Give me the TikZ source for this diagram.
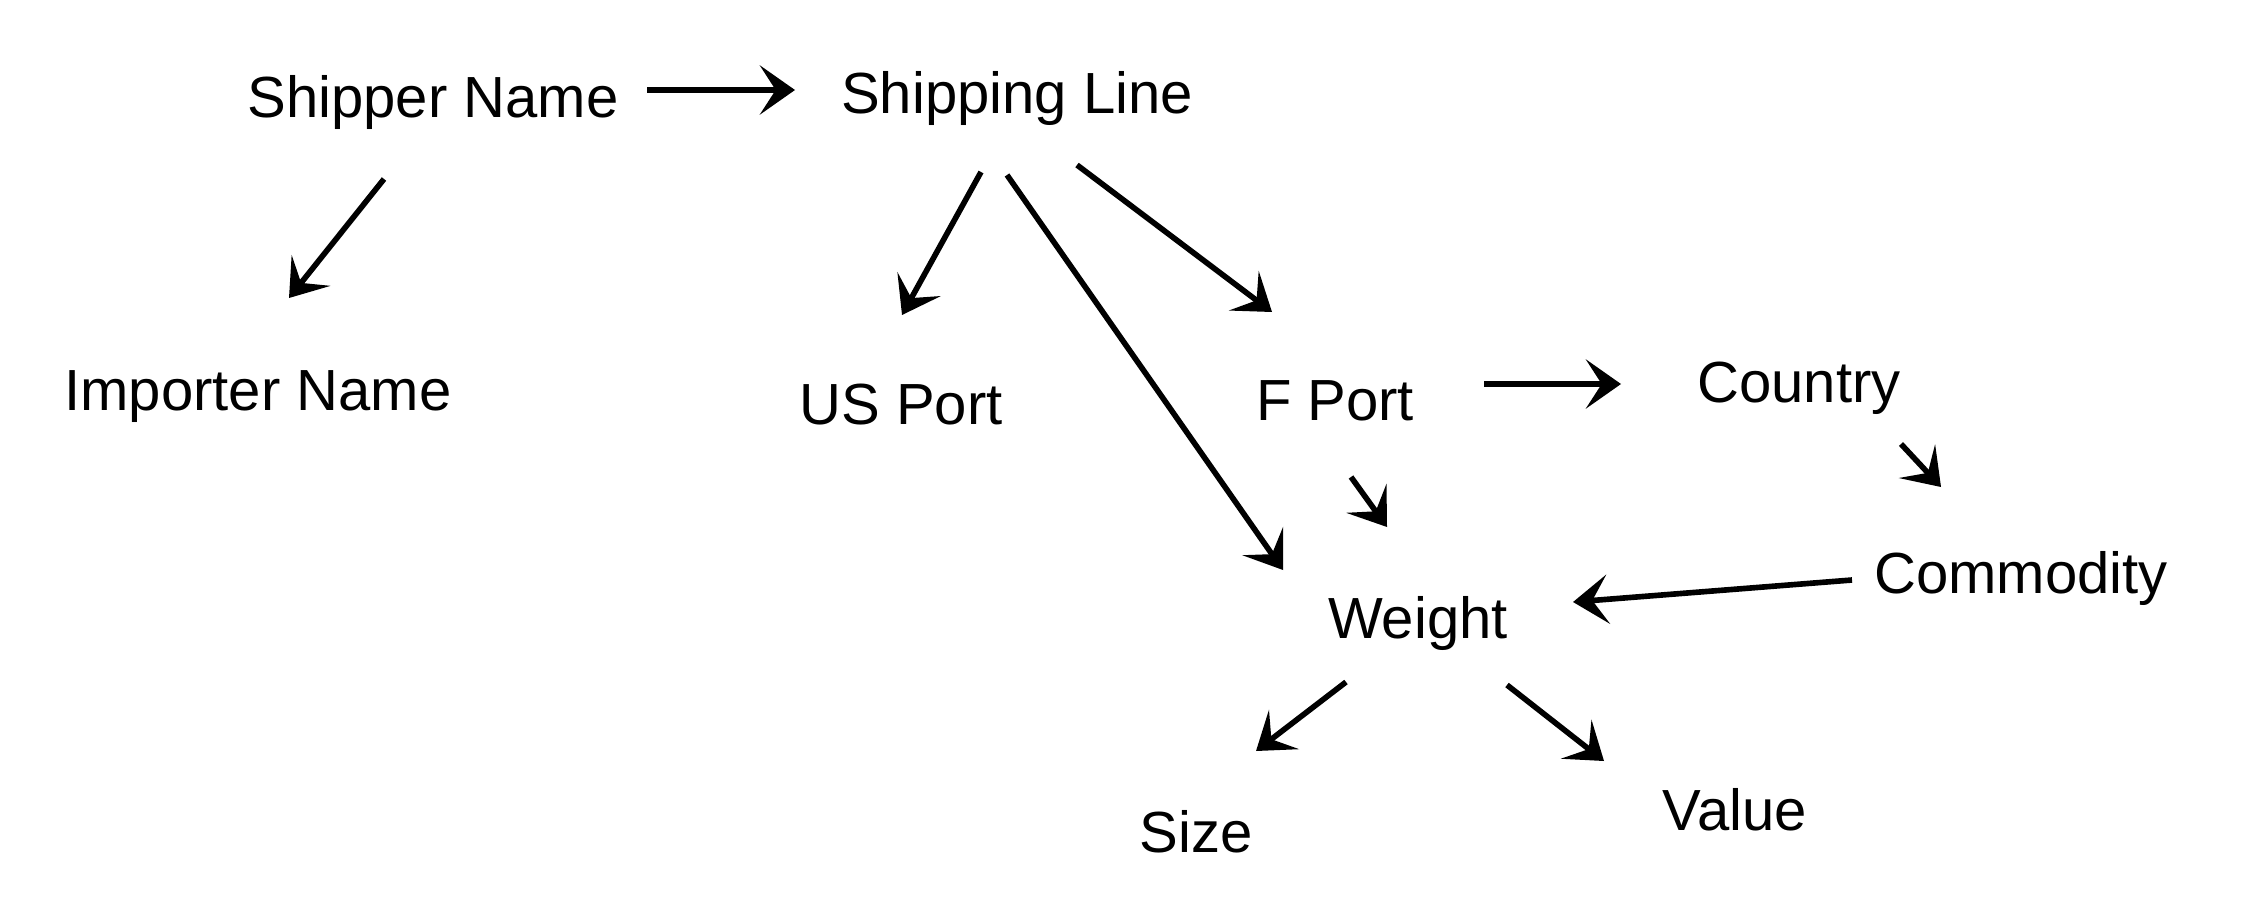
\documentclass[tikz,border=0pt]{standalone}
\usepackage{fontspec}
\setmainfont{Liberation Sans}
\usetikzlibrary{arrows.meta}
\tikzset{
    line/.style={
        line width=1.6pt
    },
    arrow/.style={
        line,
        -{Stealth[length=10pt, width=14pt, inset=4.5pt]}
    },
    field/.style={
        inner sep=0pt,
        font=\fontsize{16.5}{20}\selectfont
    }
}

\begin{document}
\begin{tikzpicture}[x=0.01cm, y=-0.01cm]
    \useasboundingbox (0, 0) rectangle (2246, 912);
    % Fields:
    \node [field] (shipper) at (433, 102) {Shipper Name};
    \node [field] (shipline) at (1017, 98) {Shipping Line};
    \node [field] (importer) at (258, 397) {Importer Name};
    \node [field] (usport) at (901, 405) {US Port};
    \node [field] (fport) at (1335, 401) {F Port};
    \node [field] (country) at (1799, 388) {Country};
    \node [field] (commodity) at (2021, 578) {Commodity};
    \node [field] (weight) at (1418, 623) {Weight};
    \node [field] (size) at (1196, 832) {Size};
    \node [field] (value) at (1735, 810) {Value};
    % Links:
    \draw [arrow] ([shift={(214, -12)}]shipper.center) -- ([shift={(-222, -8)}]shipline.center);
    \draw [arrow] ([shift={(-49, 77)}]shipper.center) -- ([shift={(31, -99)}]importer.center);
    \draw [arrow] ([shift={(-36, 74)}]shipline.center) -- ([shift={(1, -90)}]usport.center);
    \draw [arrow] ([shift={(-10, 77)}]shipline.center) -- ([shift={(-135, -53)}]weight.center);
    \draw [arrow] ([shift={(60, 67)}]shipline.center) -- ([shift={(-63, -89)}]fport.center);
    \draw [arrow] ([shift={(149, -17)}]fport.center) -- ([shift={(-178, -4)}]country.center);
    \draw [arrow] ([shift={(16, 76)}]fport.center) -- ([shift={(-31, -96)}]weight.center);
    \draw [arrow] ([shift={(102, 56)}]country.center) -- ([shift={(-80, -91)}]commodity.center);
    \draw [arrow] ([shift={(-169, 2)}]commodity.center) -- ([shift={(155, -21)}]weight.center);
    \draw [arrow] ([shift={(-72, 59)}]weight.center) -- ([shift={(60, -81)}]size.center);
    \draw [arrow] ([shift={(89, 62)}]weight.center) -- ([shift={(-131, -49)}]value.center);
\end{tikzpicture}
\end{document}
